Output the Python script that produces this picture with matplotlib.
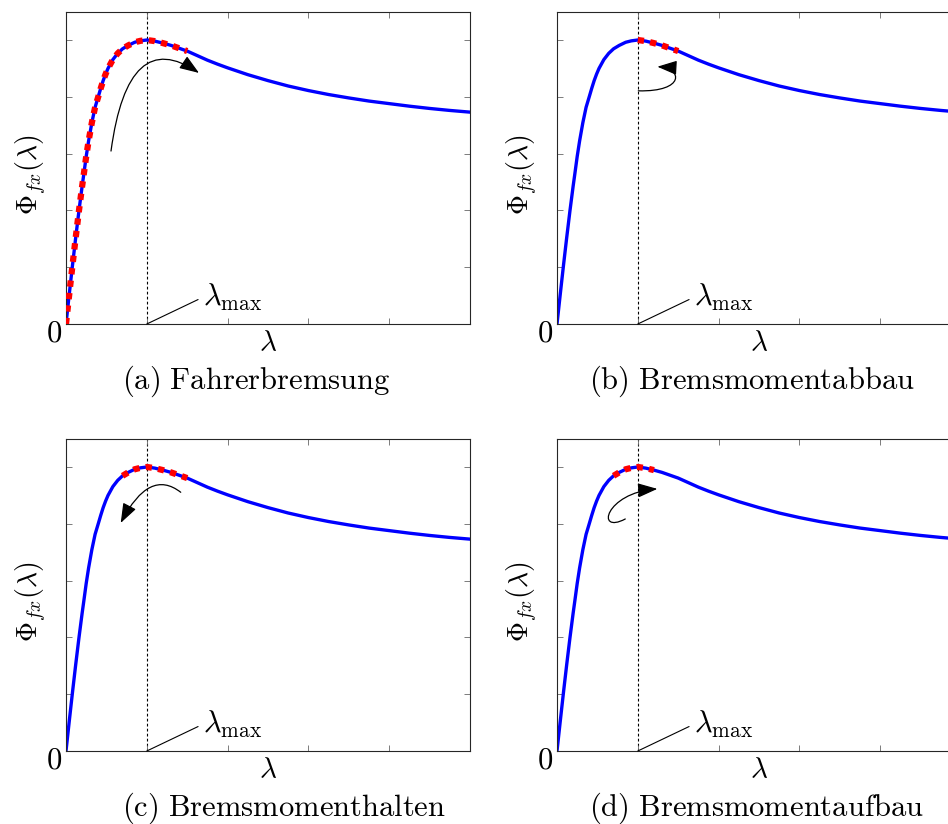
import numpy as np
import matplotlib
matplotlib.use("Agg")
from matplotlib import pyplot as plt
from matplotlib.patches import FancyArrowPatch
from matplotlib.path import Path

plt.rcParams['mathtext.fontset'] = 'cm'
plt.rcParams['font.family'] = 'serif'

# friction curve (slip lambda vs. Phi_fx)
lam = np.array([0.0, 0.04, 0.08, 0.12, 0.16, 0.2, 0.22, 0.25, 0.28, 0.32, 0.36, 0.4, 0.43,
                0.46, 0.49, 0.52, 0.58, 0.64, 0.7, 0.77, 0.85, 0.92, 1.0, 1.1, 1.2, 1.3,
                1.4, 1.5, 1.625, 1.75, 1.875, 2.0, 2.25, 2.5, 2.75, 3.0, 3.25, 3.5, 3.75,
                4.0, 4.25, 4.5, 4.75, 5.0])
phi = np.array([0.0, 0.104, 0.206, 0.304, 0.398, 0.486, 0.527, 0.59, 0.645, 0.709, 0.763, 0.801, 0.83,
                0.857, 0.88, 0.9, 0.931, 0.953, 0.969, 0.981, 0.992, 0.997, 1.0, 0.996, 0.989, 0.981,
                0.971, 0.961, 0.945, 0.929, 0.915, 0.902, 0.878, 0.857, 0.838, 0.822, 0.808, 0.796, 0.785,
                0.776, 0.767, 0.759, 0.752, 0.746])
lam_max = 1.0

captions = [r'$\mathrm{(a)\ Fahrerbremsung}$',
            r'$\mathrm{(b)\ Bremsmomentabbau}$',
            r'$\mathrm{(c)\ Bremsmomenthalten}$',
            r'$\mathrm{(d)\ Bremsmomentaufbau}$']
# part of the curve that is marked red in each panel
red_ranges = [(0.0, 1.5), (1.0, 1.5), (0.7, 1.5), (0.7, 1.2)]

# curved arrows (data coords of each panel)
Q, C = Path.CURVE3, Path.CURVE4
arrows = [
    ([(0.557, 0.609), (0.767, 1.053), (1.646, 0.884)], [Path.MOVETO, Q, Q]),
    ([(1.006, 0.821), (1.590, 0.817), (1.553, 0.901), (1.242, 0.906)], [Path.MOVETO, C, C, C]),
    ([(1.420, 0.911), (1.032, 0.997), (0.677, 0.803)], [Path.MOVETO, Q, Q]),
    ([(0.845, 0.817), (0.472, 0.761), (0.596, 0.909), (1.242, 0.923)], [Path.MOVETO, C, C, C]),
]

W, H = 948, 824
aw, ah = 404, 312
corners = [(66, 12), (557, 12), (66, 439), (557, 439)]
cap_pos = [(122, 381), (589, 381), (122, 808), (589, 808)]

fig = plt.figure(figsize=(W / 100, H / 100), dpi=100)

for i in range(4):
    x, y = corners[i]
    ax = fig.add_axes([x / W, 1 - (y + ah) / H, aw / W, ah / H])

    ax.axvline(lam_max, color='k', lw=0.8, ls=(0, (2.5, 2)), zorder=1)
    ax.plot(lam, phi, color='#0000ff', lw=2.4, zorder=2)
    lo, hi = red_ranges[i]
    m = (lam >= lo) & (lam <= hi)
    ax.plot(lam[m], phi[m], color='red', lw=4.5, ls=(0, (1, 1.0)), zorder=3)

    verts, codes = arrows[i]
    arr = FancyArrowPatch(path=Path(verts, codes), arrowstyle='-|>,head_length=0.6,head_width=0.22',
                          mutation_scale=20, lw=0.9, color='k', transform=ax.transData, zorder=4)
    ax.add_patch(arr)

    ax.annotate(r'$\lambda_{\max}$', xy=(lam_max, 0.0), xytext=(1.7, 0.095), fontsize=22,
                ha='left', va='center',
                arrowprops=dict(arrowstyle='-', lw=0.8, color='k', shrinkA=2, shrinkB=0, relpos=(0, 0.5)))
    ax.text(-0.142, -0.032, r'$0$', fontsize=22, ha='center', va='center')

    ax.set_xlim(0, 5)
    ax.set_ylim(0, 1.0986)
    ax.set_xticks(np.arange(0, 6))
    ax.set_yticks(np.arange(0, 1.01, 0.2))
    ax.tick_params(direction='in', top=True, right=True, labelbottom=False, labelleft=False,
                   length=4, width=0.6, color='#666666')
    for s in ax.spines.values():
        s.set_color('#262626')
        s.set_linewidth(0.8)

    ax.set_xlabel(r'$\lambda$', fontsize=21, va='center')
    ax.xaxis.set_label_coords(0.5, -0.061)
    ax.set_ylabel(r'$\Phi_{fx}(\lambda)$', fontsize=20, va='center')
    ax.yaxis.set_label_coords(-0.085, 0.48)

    cx, cy = cap_pos[i]
    fig.text(cx / W, 1 - cy / H, captions[i], fontsize=22, ha='left', va='center')

plt.savefig("out.png", dpi=100)
